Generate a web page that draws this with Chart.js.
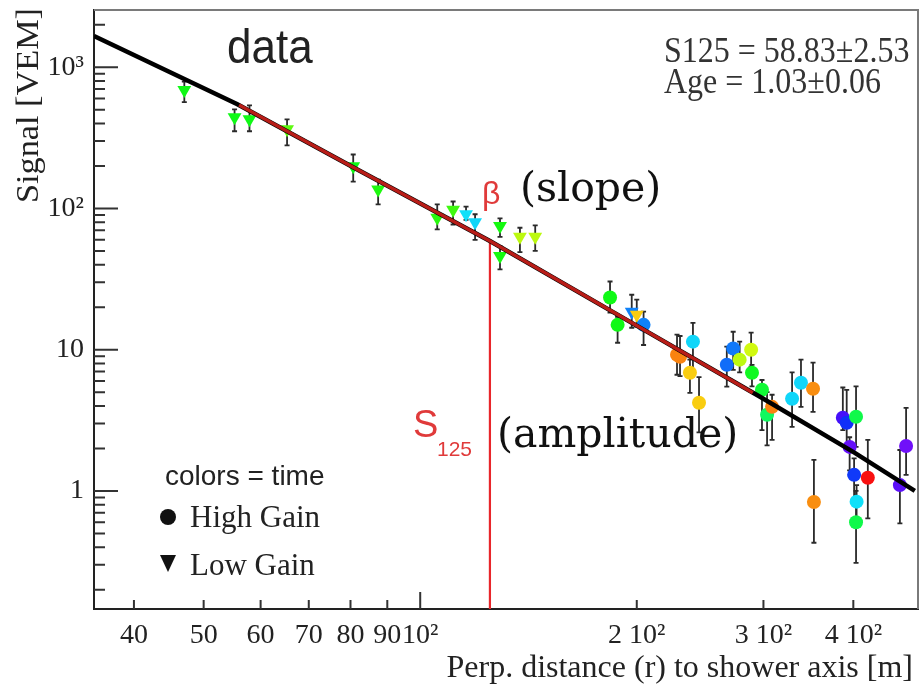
<!DOCTYPE html>
<html>
<head>
<meta charset="utf-8">
<script src="https://cdn.jsdelivr.net/npm/chart.js@4.4.1/dist/chart.umd.min.js"></script>
<style>
  html, body { margin: 0; padding: 0; background: #fff; }
</style>
</head>
<body>
<canvas id="mycanvas" width="920" height="685"></canvas>
<script>
// axis ranges
var xMin = 35.2, xMax = 492;
var yMin = 0.146, yMax = 2540;

var xTickValues = [40, 50, 60, 70, 80, 90, 100, 200, 300, 400];
var xTickLabels = ['40', '50', '60', '70', '80', '90', '10²', '2 10²', '3 10²', '4 10²'];
var yTickValues = [1, 10, 100, 1000];
var yTickLabels = ['1', '10', '10²', '10³'];

// low gain stations (triangles): distance [m], signal [VEM], error bar ends, time (0 early .. 100 late)
var lowR     = [47.0, 55.2, 57.9, 65.3, 80.7, 87.4, 105.6, 111.1, 115.8, 119.2, 129.1, 129.1, 137.6, 144.5, 196.8, 200.0];
var lowS     = [690, 442, 428, 363, 199, 136, 86, 98, 91, 80, 75, 46, 63, 63, 18.6, 17.7];
var lowErrLo = [565, 352, 352, 280, 155, 107, 71, 77, 83, 60, 63, 37, 49, 50, 14.3, 14.6];
var lowErrHi = [790, 503, 537, 427, 241, 160, 107, 112, 103, 91, 85, 54, 73, 76, 24.5, 22.6];
var lowTime  = [55, 55, 55, 63, 55, 57, 58, 60, 31, 30, 56, 56, 72, 72, 22, 82];

// high gain stations (circles)
var highR     = [183.6, 188.1, 204.4, 227.5, 229.7, 239.4, 237.1, 244.1, 266.8, 272.3, 278.0, 288.4, 289.2, 298.6, 303.5, 308.4, 328.8, 338.3, 351.6, 352.6, 386.8, 391.6, 403.5, 395.3, 401.0, 419.0, 404.2, 403.5, 473.6, 464.3];
var highS     = [23.4, 15.0, 15.0, 9.2, 8.9, 11.4, 6.87, 4.21, 7.83, 10.2, 8.5, 10.0, 6.87, 5.2, 3.46, 3.94, 4.49, 5.83, 5.29, 0.836, 3.3, 3.04, 3.35, 2.05, 1.30, 1.24, 0.84, 0.60, 2.08, 1.10];
var highErrLo = [18.3, 11.2, 10.8, 6.65, 6.5, 6.87, 4.95, 2.6, 5.47, 7.2, 6.9, 7.6, 5.5, 2.7, 2.1, 2.3, 2.84, 3.94, 3.63, 0.43, 2.7, 2.0, 2.05, 1.4, 0.86, 0.64, 0.6, 0.31, 1.3, 0.59];
var highErrHi = [30.4, 17.1, 18.6, 12.8, 12.5, 15.5, 8.5, 6.4, 10.5, 13.4, 11.4, 13.2, 7.8, 6.1, 5.0, 4.8, 6.9, 8.5, 8.1, 1.66, 5.4, 5.2, 5.5, 2.4, 1.7, 2.3, 1.1, 1.0, 3.88, 1.95];
var highTime  = [55, 55, 22, 89, 89, 30, 82, 82, 20, 21, 72, 74, 54, 52, 48, 89, 30, 30, 88, 88, 6, 14, 50, 3, 15, 100, 31, 50, 2, 4];

// LDF fit
var fitR = [35.2, 55.7, 80.2, 125, 189.6, 296.7, 401.9, 487];
var fitS = [1660, 547, 199, 58.83, 17.3, 4.64, 1.86, 1.0];
var redR = [56, 80.2, 125, 189.6, 290];
var redS = [540, 199, 58.83, 17.3, 4.96];
var s125R = 125, s125 = 58.83;

function timeColor(t) {
    return 'hsl(' + (270 - t * 2.7) + ', 95%, 52%)';
}
function pts(xs, ys) {
    var out = [];
    for (var i in xs) out.push({x: xs[i], y: ys[i]});
    return out;
}

function txt(ctx, s, x, y, font, color, sy, align) {
    ctx.save();
    ctx.translate(x, y);
    ctx.scale(1, sy || 1);
    ctx.font = font;
    ctx.fillStyle = color;
    ctx.textAlign = align || 'left';
    ctx.textBaseline = 'alphabetic';
    ctx.fillText(s, 0, 0);
    ctx.restore();
}

function noPad(scale) {
    scale.paddingTop = 0;
    scale.paddingBottom = 0;
    scale.paddingLeft = 0;
    scale.paddingRight = 0;
}

var decor = {
    id: 'decor',
    beforeDatasetsDraw: function(chart) {
        var ctx = chart.ctx, xs = chart.scales.x, ys = chart.scales.y, a = chart.chartArea;
        ctx.save();
        ctx.beginPath();
        ctx.rect(a.left, a.top, a.right - a.left, a.bottom - a.top);
        ctx.clip();
        ctx.strokeStyle = '#2a2a2a';
        ctx.lineWidth = 1.8;
        chart.data.datasets.forEach(function(ds) {
            if (!ds.errLo) return;
            ds.data.forEach(function(p, i) {
                var x = xs.getPixelForValue(p.x);
                var y1 = ys.getPixelForValue(ds.errHi[i]);
                var y2 = ys.getPixelForValue(ds.errLo[i]);
                ctx.beginPath();
                ctx.moveTo(x, y1); ctx.lineTo(x, y2);
                ctx.moveTo(x - 2.5, y1); ctx.lineTo(x + 2.5, y1);
                ctx.moveTo(x - 2.5, y2); ctx.lineTo(x + 2.5, y2);
                ctx.stroke();
            });
        });
        ctx.restore();
    },
    afterDraw: function(chart) {
        var ctx = chart.ctx, xs = chart.scales.x, ys = chart.scales.y, a = chart.chartArea;
        ctx.save();
        // top / right frame
        ctx.strokeStyle = '#7a7a7a';
        ctx.lineWidth = 2;
        ctx.beginPath();
        ctx.moveTo(a.left, a.top); ctx.lineTo(a.right, a.top); ctx.lineTo(a.right, a.bottom);
        ctx.stroke();

        // inward ticks
        ctx.strokeStyle = '#333';
        ctx.lineWidth = 2;
        ctx.beginPath();
        for (var d = 0.1; d < 5000; d *= 10) {
            for (var k = 1; k < 10; k++) {
                var v = k * d;
                if (v < yMin || v > yMax) continue;
                var py = ys.getPixelForValue(v);
                ctx.moveTo(a.left, py);
                ctx.lineTo(a.left + (k === 1 ? 24 : 11), py);
            }
        }
        xTickValues.forEach(function(v) {
            var px = xs.getPixelForValue(v);
            ctx.moveTo(px, a.bottom);
            ctx.lineTo(px, a.bottom - (v === 100 ? 17 : 9));
        });
        ctx.stroke();
        ctx.restore();

        // axis titles
        ctx.save();
        ctx.translate(38, 8);
        ctx.rotate(-Math.PI / 2);
        ctx.scale(1.07, 1);
        ctx.font = '32px "Liberation Serif"';
        ctx.fillStyle = '#222';
        ctx.textAlign = 'right';
        ctx.fillText('Signal [VEM]', 0, 0);
        ctx.restore();
        txt(ctx, 'Perp. distance (r) to shower axis [m]', 913, 677, '32px "Liberation Serif"', '#222', 1, 'right');

        // annotations
        txt(ctx, 'data', 227, 63, '44px "Liberation Sans"', '#222', 1.08);
        txt(ctx, 'S125 = 58.83\u00b12.53', 664, 62, '32px "Liberation Serif"', '#333', 1.15);
        txt(ctx, 'Age = 1.03\u00b10.06', 664, 93, '32px "Liberation Serif"', '#333', 1.15);
        txt(ctx, '\u03b2', 482, 204, '32px "Liberation Sans"', '#e03a3a', 1);
        txt(ctx, '(slope)', 520, 201, '41px "DejaVu Serif"', '#111', 1);
        txt(ctx, 'S', 413, 437, '38px "Liberation Sans"', '#e03a3a', 1);
        txt(ctx, '125', 437, 456, '21px "Liberation Sans"', '#e03a3a', 1);
        txt(ctx, '(amplitude)', 497, 447, '41px "DejaVu Serif"', '#111', 1);

        // legend
        txt(ctx, 'colors = time', 165, 485, '28px "Liberation Sans"', '#222', 1);
        ctx.save();
        ctx.fillStyle = '#111';
        ctx.beginPath();
        ctx.arc(168, 517, 8, 0, Math.PI * 2);
        ctx.fill();
        ctx.beginPath();
        ctx.moveTo(160, 555); ctx.lineTo(176, 555); ctx.lineTo(168, 572);
        ctx.closePath();
        ctx.fill();
        ctx.restore();
        txt(ctx, 'High Gain', 190, 527, '31px "Liberation Serif"', '#222', 1.05);
        txt(ctx, 'Low Gain', 190, 575, '31px "Liberation Serif"', '#222', 1.05);
    }
};

var ctx = document.getElementById('mycanvas');
var myChart = new Chart(ctx, {
    type: 'scatter',
    data: {
        datasets: [{
            label: 'S125 line',
            data: [{x: s125R, y: yMin / 2}, {x: s125R, y: s125}],
            showLine: true,
            borderColor: '#e8262a',
            borderWidth: 2.2,
            pointRadius: 0,
            order: 1
        }, {
            label: 'fit',
            data: pts(fitR, fitS),
            showLine: true,
            borderColor: '#000',
            borderWidth: 4.5,
            pointRadius: 0,
            order: 0
        }, {
            label: 'fit range',
            data: pts(redR, redS),
            showLine: true,
            borderColor: '#b81d18',
            borderWidth: 3.5,
            pointRadius: 0,
            order: -1
        }, {
            label: 'Low Gain',
            data: pts(lowR, lowS),
            errLo: lowErrLo,
            errHi: lowErrHi,
            pointStyle: 'triangle',
            rotation: 180,
            pointRadius: 8,
            backgroundColor: lowTime.map(timeColor),
            borderColor: lowTime.map(timeColor),
            borderWidth: 0,
            order: 2
        }, {
            label: 'High Gain',
            data: pts(highR, highS),
            errLo: highErrLo,
            errHi: highErrHi,
            pointStyle: 'circle',
            pointRadius: 7,
            backgroundColor: highTime.map(timeColor),
            borderColor: highTime.map(timeColor),
            borderWidth: 0,
            order: 2
        }]
    },
    options: {
        responsive: false,
        animation: false,
        layout: { autoPadding: false, padding: { top: 10, right: 2, left: 0, bottom: 0 } },
        plugins: {
            legend: { display: false },
            tooltip: { enabled: false }
        },
        scales: {
            x: {
                type: 'logarithmic',
                min: xMin,
                max: xMax,
                grid: { display: false, drawTicks: false },
                border: { display: true, color: '#222', width: 2 },
                afterBuildTicks: function(scale) {
                    scale.ticks = xTickValues.map(function(v) { return {value: v}; });
                },
                afterFit: function(scale) { scale.height = 76; noPad(scale); },
                ticks: {
                    autoSkip: false,
                    maxRotation: 0,
                    minRotation: 0,
                    padding: 10,
                    color: '#222',
                    font: { family: 'Liberation Serif', size: 28 },
                    callback: function(v, i) { return xTickLabels[i]; }
                }
            },
            y: {
                type: 'logarithmic',
                min: yMin,
                max: yMax,
                grid: { display: false, drawTicks: false },
                border: { display: true, color: '#222', width: 2 },
                afterBuildTicks: function(scale) {
                    scale.ticks = yTickValues.map(function(v) { return {value: v}; });
                },
                afterFit: function(scale) { scale.width = 94; noPad(scale); },
                ticks: {
                    autoSkip: false,
                    padding: 10,
                    color: '#222',
                    font: { family: 'Liberation Serif', size: 28 },
                    callback: function(v, i) { return yTickLabels[i]; }
                }
            }
        }
    },
    plugins: [decor]
});
</script>
</body>
</html>
